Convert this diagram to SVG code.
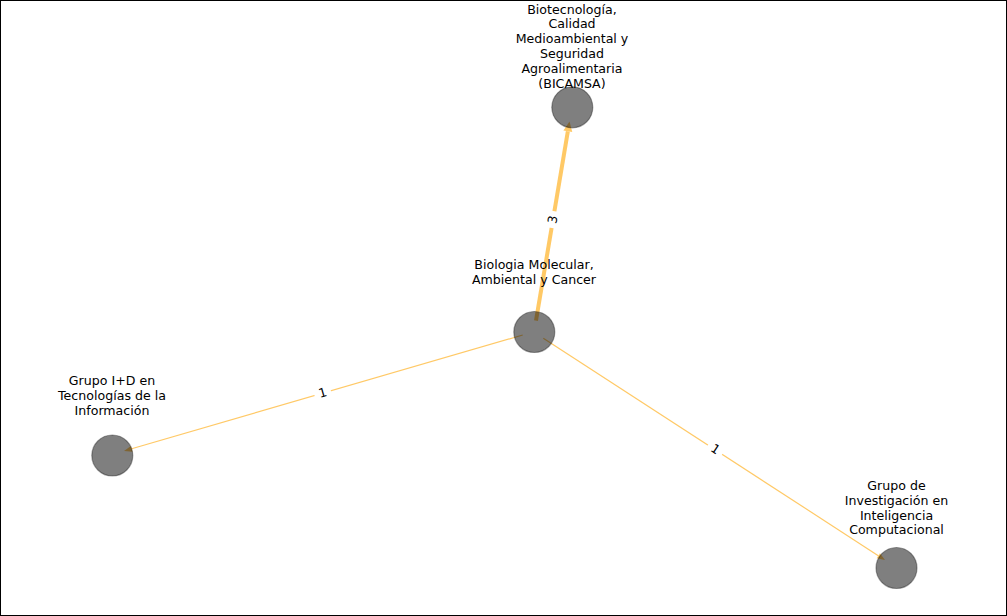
<svg xmlns="http://www.w3.org/2000/svg" width="1007" height="616" viewBox="0 0 1007 616">
<style>
.edge{stroke:#FFA500;stroke-opacity:0.6;fill:none;stroke-linecap:butt}
.head{fill:#FFA500;fill-opacity:0.6;stroke:none}
.node{fill:#000;fill-opacity:0.5;stroke:#000;stroke-opacity:0.35;stroke-width:1.2}
.lbl{font-family:"DejaVu Sans",sans-serif;font-size:12.6px;fill:#000;text-anchor:middle}
.elbl{font-family:"DejaVu Sans",sans-serif;font-size:12.6px;fill:#000;text-anchor:middle}
</style>
<rect x="0.5" y="0.5" width="1006" height="615" fill="#fff" stroke="#000" stroke-width="1"/>
<g id="connectors">
  <line class="edge" x1="536" y1="320.7" x2="567.84" y2="131.36" stroke-width="4"/>
  <polygon class="head" points="569.5,121.5 572.28,132.11 563.40,130.61"/>
  <line class="edge" x1="522.7" y1="335" x2="131.68" y2="448.77" stroke-width="1.2"/>
  <polygon class="head" points="124,451 132.52,451.65 130.84,445.89"/>
  <line class="edge" x1="543.3" y1="338.3" x2="878.29" y2="555.65" stroke-width="1.2"/>
  <polygon class="head" points="885,560 876.66,558.17 879.92,553.13"/>
  <g transform="translate(552.5,219.5) rotate(-80.45)">
    <rect x="-8.5" y="-10" width="17" height="20" fill="#fff"/>
    <text class="elbl" x="0" y="4.5">3</text>
  </g>
  <g transform="translate(322.5,392.5) rotate(-16.2)">
    <rect x="-8.5" y="-10" width="17" height="20" fill="#fff"/>
    <text class="elbl" x="0" y="4.5">1</text>
  </g>
  <g transform="translate(715.5,449) rotate(33)">
    <rect x="-8.5" y="-10" width="17" height="20" fill="#fff"/>
    <text class="elbl" x="0" y="4.5">1</text>
  </g>
</g>
<g id="node-bicamsa">
  <circle class="node" cx="572.3" cy="107.3" r="20.5"/>
  <text class="lbl" x="572" y="13.5">Biotecnología,</text>
  <text class="lbl" x="572" y="28.3">Calidad</text>
  <text class="lbl" x="572" y="43">Medioambiental y</text>
  <text class="lbl" x="572" y="57.9">Seguridad</text>
  <text class="lbl" x="572" y="72.7">Agroalimentaria</text>
  <text class="lbl" x="572" y="87.5">(BICAMSA)</text>
</g>
<g id="node-biologia">
  <circle class="node" cx="534.3" cy="332" r="20.5"/>
  <text class="lbl" x="534" y="269">Biologia Molecular,</text>
  <text class="lbl" x="534" y="284">Ambiental y Cancer</text>
</g>
<g id="node-grupo-id">
  <circle class="node" cx="112.3" cy="455.5" r="20.5"/>
  <text class="lbl" x="112" y="385">Grupo I+D en</text>
  <text class="lbl" x="112" y="400">Tecnologías de la</text>
  <text class="lbl" x="112" y="414.5">Información</text>
</g>
<g id="node-grupo-inv">
  <circle class="node" cx="896.5" cy="568" r="20.5"/>
  <text class="lbl" x="896.5" y="490">Grupo de</text>
  <text class="lbl" x="896.5" y="505">Investigación en</text>
  <text class="lbl" x="896.5" y="519.5">Inteligencia</text>
  <text class="lbl" x="896.5" y="534">Computacional</text>
</g>
</svg>
